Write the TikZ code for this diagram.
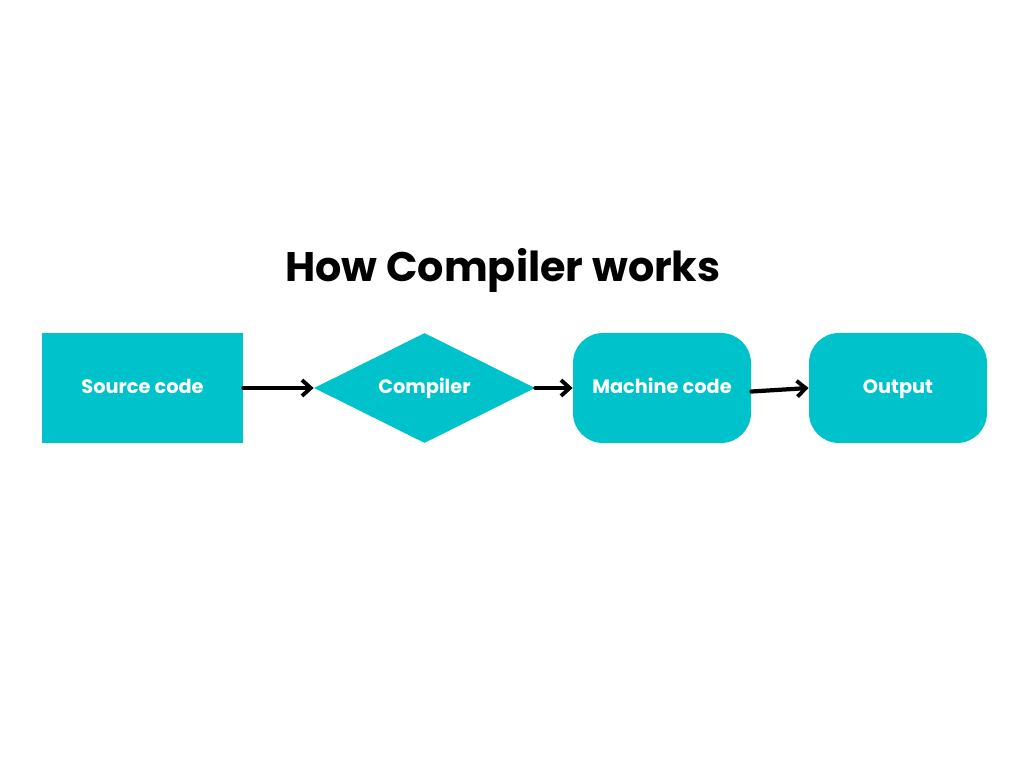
\documentclass[tikz,border=0pt]{standalone}
\usepackage{fontspec}
\setmainfont{Poppins}
\usetikzlibrary{arrows.meta,shapes.geometric,positioning}
\definecolor{teal box}{HTML}{00C2CB}

\begin{document}
\begin{tikzpicture}[>={Straight Barb[length=5pt,width=9pt,line width=2.2pt]},
  main node/.style={fill=teal box,text=white,font=\bfseries\fontsize{11}{13}\selectfont,
    minimum height=2.2cm,inner sep=0pt,text height=1.5ex,text depth=.3ex},
  flow/.style={->,line width=2.4pt,line cap=round}]
  \useasboundingbox[fill=white] (0,0) rectangle (20.48,-15.36);
  \node[font=\bfseries\fontsize{23.5}{28}\selectfont] (title) at (10.06,-5.40) {How Compiler works};
  \node[main node,minimum width=4.02cm]                        (src)  at (2.85,-7.76)  {Source code};
  \node[main node,diamond,minimum width=4.42cm]                (comp) at (8.49,-7.76)  {Compiler};
  \node[main node,rounded corners=0.6cm,minimum width=3.56cm]  (mach) at (13.24,-7.76) {Machine code};
  \node[main node,rounded corners=0.6cm,minimum width=3.56cm]  (out)  at (17.96,-7.76) {Output};
  \draw[flow] (src) -- (comp);
  \draw[flow] (comp) -- (mach);
  \draw[flow] ([yshift=-2pt]mach.east) -- (out.west);
\end{tikzpicture}
\end{document}
